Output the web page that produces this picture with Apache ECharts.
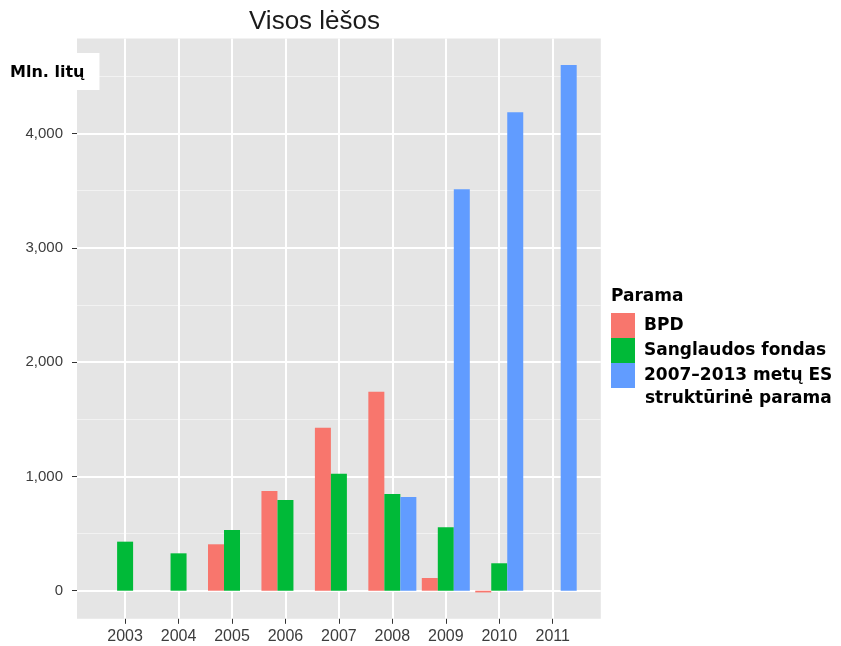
<!DOCTYPE html>
<html>
<head>
<meta charset="utf-8">
<title>Visos lėšos</title>
<script src="https://cdn.jsdelivr.net/npm/echarts@6/dist/echarts.min.js"></script>
<style>
  html, body { margin: 0; padding: 0; background: #fff; }
  #chart { width: 841px; height: 646px; }
</style>
</head>
<body>
<div id="chart"></div>
<script>
// metai (x ašis)
var years = [2003, 2004, 2005, 2006, 2007, 2008, 2009, 2010, 2011];
// mln. litų, null = stulpelio nėra
var bpd = [null, null, 406, 872, 1426, 1741, 111, -15, null];
var sanglaudos = [429, 327, 531, 794, 1024, 846, 555, 240, null];
var esParama = [null, null, null, null, null, 820, 3512, 4186, 4600];
// y ašies žymos
var yTicks = [0, 1000, 2000, 3000, 4000];
var yMinor = [500, 1500, 2500, 3500, 4500];
var seriesNames = ['BPD', 'Sanglaudos fondas', '2007–2013 metų ES\nstruktūrinė parama'];
var colors = ['#F8766D', '#00BA38', '#619CFF'];

var axisFont = 'Liberation Sans, Arial, sans-serif';
var boldFont = 'DejaVu Sans, sans-serif';

function pairs(vals) {
  var out = [];
  for (var i = 0; i < years.length; i++) {
    if (vals[i] != null) out.push([years[i], vals[i]]);
  }
  return out;
}

function fmt(v) {
  return String(v).replace(/\B(?=(\d{3})+(?!\d))/g, ',');
}

var chart = echarts.init(document.getElementById('chart'));

var dataSets = [bpd, sanglaudos, esParama];
var series = [];
for (var s = 0; s < dataSets.length; s++) {
  series.push({
    name: seriesNames[s],
    type: 'bar',
    data: pairs(dataSets[s]),
    barWidth: 16,
    barGap: '0%',
    itemStyle: { color: colors[s] },
    animation: false
  });
}

var boldText = { fontFamily: boldFont, fontSize: 17, fontWeight: 'bold', color: '#000' };

chart.setOption({
  animation: false,
  color: colors,
  title: [
    {
      text: 'Visos lėšos',
      left: 249, top: 9, padding: 0,
      textStyle: { fontFamily: axisFont, fontSize: 26, fontWeight: 'normal', color: '#1a1a1a' }
    },
    {
      text: 'Mln. litų',
      left: 0, top: 53,
      padding: [11, 15, 9, 10],
      backgroundColor: '#ffffff',
      textStyle: { fontFamily: boldFont, fontSize: 16, fontWeight: 'bold', color: '#000', lineHeight: 17 }
    },
    {
      text: 'Parama',
      left: 611, top: 288, padding: 0,
      textStyle: boldText
    },
    {
      // antra legendos eilutė
      text: seriesNames[2].split('\n')[1],
      left: 645, top: 390, padding: 0,
      textStyle: boldText
    }
  ],
  legend: {
    orient: 'vertical',
    left: 611, top: 313,
    padding: 0,
    itemGap: 0,
    itemWidth: 24,
    itemHeight: 25,
    icon: 'rect',
    selectedMode: false,
    data: seriesNames,
    formatter: function (name) { return name.split('\n')[0]; },
    textStyle: {
      fontFamily: boldFont, fontSize: 17, fontWeight: 'bold', color: '#000',
      lineHeight: 21, padding: [0, 0, 0, 4]
    }
  },
  grid: {
    left: 77, right: 240.2, top: 38.5, bottom: 27.2,
    show: true, backgroundColor: '#E5E5E5', borderWidth: 0,
    containLabel: false
  },
  xAxis: {
    type: 'value',
    min: 2002.1, max: 2011.9,
    axisLine: { show: false, onZero: false },
    axisTick: { show: true, customValues: years, length: 5, lineStyle: { color: '#333', width: 1 } },
    axisLabel: {
      customValues: years, margin: 10,
      formatter: function (v) { return String(v); },
      fontFamily: axisFont, fontSize: 16, color: '#3c3c3c'
    },
    splitLine: { show: true, lineStyle: { color: '#ffffff', width: 2 } }
  },
  yAxis: [
    {
      type: 'value',
      min: -245.75, max: 4830.75,
      axisLine: { show: false },
      axisTick: { show: true, customValues: yTicks, length: 5, lineStyle: { color: '#333', width: 1 } },
      axisLabel: {
        customValues: yTicks, margin: 14,
        formatter: fmt,
        fontFamily: axisFont, fontSize: 15, color: '#3c3c3c'
      },
      splitLine: { show: true, lineStyle: { color: '#ffffff', width: 2 } }
    },
    {
      type: 'value',
      min: -245.75, max: 4830.75,
      position: 'left',
      axisLine: { show: false },
      axisTick: { show: false, customValues: yMinor },
      axisLabel: { show: false, customValues: yMinor },
      splitLine: { show: true, lineStyle: { color: '#F2F2F2', width: 1 } }
    }
  ],
  series: series
});
</script>
</body>
</html>
